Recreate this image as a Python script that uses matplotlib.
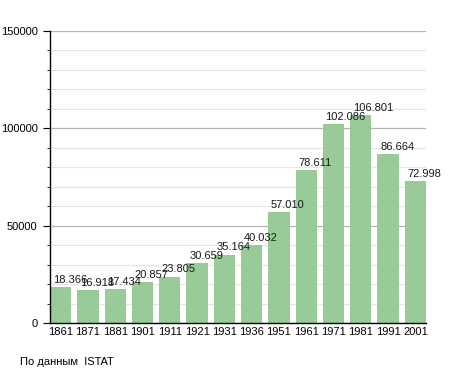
import matplotlib.pyplot as plt
from matplotlib.ticker import MultipleLocator

years = ['1861', '1871', '1881', '1901', '1911', '1921', '1931',
         '1936', '1951', '1961', '1971', '1981', '1991', '2001']
population = [18366, 16918, 17434, 20857, 23805, 30659, 35164,
              40032, 57010, 78611, 102086, 106801, 86664, 72998]
source_note = 'По данным  ISTAT'

plt.rcParams['font.family'] = ['Liberation Sans', 'DejaVu Sans']

fig = plt.figure(figsize=(4.55, 3.73), dpi=100)
ax = fig.add_axes([50 / 455, 1 - 323 / 373, 376 / 455, 292 / 373])

w = 0.78
x = range(len(years))
ax.bar(x, population, width=w, color='#98cb98', zorder=2)

# value labels, thousands with a dot
for i, v in enumerate(population):
    lab = '{:,}'.format(v).replace(',', '.')
    ax.text(i - w / 2 + 0.1, v + 1200, lab, ha='left', va='bottom',
            fontsize=8, color='#1a1a1a', zorder=3)

ax.set_xlim(-w / 2, len(years) - 1 + w / 2)
ax.set_ylim(0, 150000)
ax.set_xticks(list(x))
ax.set_xticklabels(years)
ax.yaxis.set_major_locator(MultipleLocator(50000))
ax.yaxis.set_minor_locator(MultipleLocator(10000))

ax.grid(axis='y', which='major', color='#b4b4b4', linewidth=0.9, zorder=0)
ax.grid(axis='y', which='minor', color='#e6e6e6', linewidth=0.9, zorder=0)

for s in ['top', 'right']:
    ax.spines[s].set_visible(False)
ax.spines['left'].set_linewidth(1.0)
ax.spines['bottom'].set_linewidth(1.0)

ax.tick_params(axis='x', length=0, labelsize=8, pad=3)
ax.tick_params(axis='y', which='major', length=5, labelsize=8, pad=4)
ax.tick_params(axis='y', which='minor', length=2.5)

fig.text(20 / 455, 1 - 362 / 373, source_note, fontsize=8,
         ha='left', va='center')

plt.savefig('out.png', dpi=100)
